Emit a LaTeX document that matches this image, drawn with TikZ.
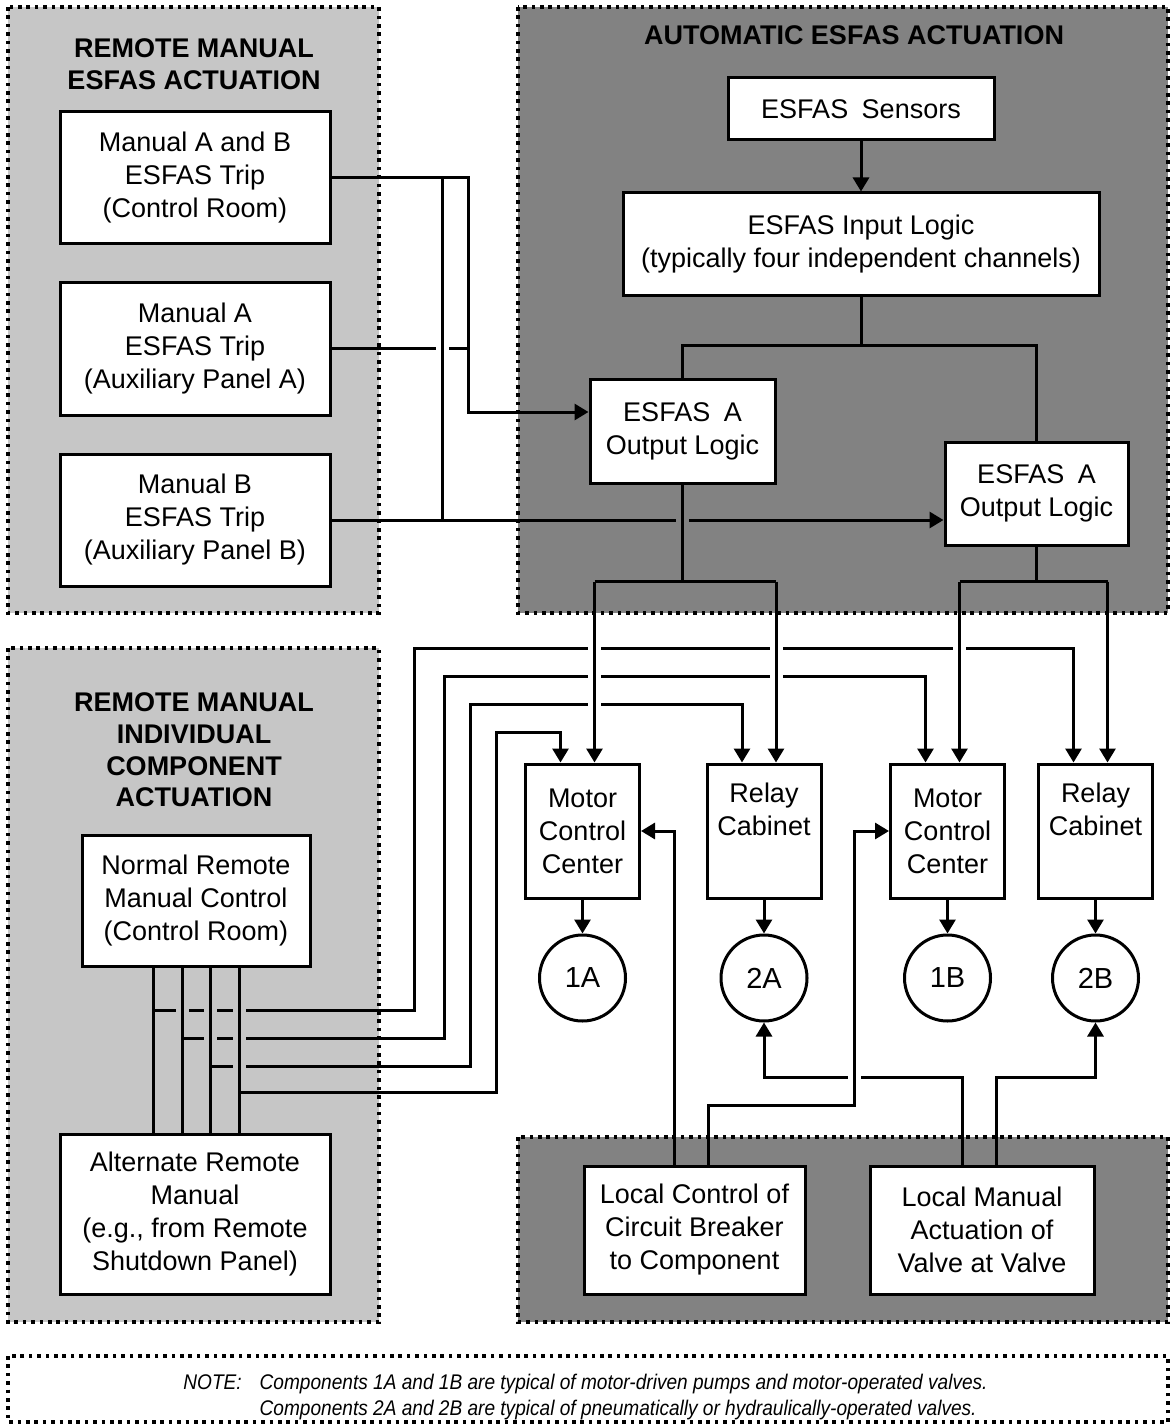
\documentclass[tikz,border=0pt]{standalone}
\usepackage{fontspec}
\setmainfont{Liberation Sans}
\newfontfamily\notefont[FakeStretch=0.9]{Liberation Sans}
\usepackage{tikz}
\usetikzlibrary{arrows.meta,positioning,calc}
\definecolor{panellt}{HTML}{C6C6C6}
\definecolor{paneldk}{HTML}{828282}

\begin{document}
\begin{tikzpicture}[
  x=0.5pt,y=-0.5pt,
  font=\fontsize{13.5}{16.5}\selectfont,
  zone/.style={draw,fill=#1,line width=2pt,dash pattern=on 1.8pt off 2.4pt},
  box/.style={draw,fill=white,line width=1.5pt,align=center,inner sep=0pt},
  esf/.style={box,minimum width=135pt,minimum height=66pt},
  cab/.style={box,minimum width=57pt,minimum height=67pt},
  comp/.style={draw,fill=white,circle,line width=1.5pt,inner sep=0pt,minimum size=43pt,
               font=\fontsize{14.5}{16.5}\selectfont},
  ttl/.style={font=\fontsize{13.5}{15.8}\selectfont\bfseries,align=center},
  wire/.style={line width=1.5pt},
  ar/.style={wire,-{Triangle[length=7pt,width=8pt]}},
  over/.style 2 args={preaction={draw=#1,line width=6.5pt,-,shorten <=#2,shorten >=4pt}}
]
\fill[white] (0,0) rectangle (1170,1428);
\useasboundingbox (0,0) rectangle (1170,1428);

\path[zone=panellt] (8,7) rectangle (379,613);
\path[zone=paneldk] (518,7) rectangle (1168,613);
\path[zone=panellt] (8,648) rectangle (379,1322);
\path[zone=paneldk] (518,1137) rectangle (1168,1322);
\path[zone=white] (8,1356) rectangle (1168,1422);

\node[ttl] (ttlesf) at (194,64) {REMOTE MANUAL\\ESFAS ACTUATION};
\node[esf] (manab) at (195,178) {Manual A and B\\ESFAS Trip\\(Control Room)};
\node[esf,below=18pt of manab] (mana) {Manual A\\ESFAS Trip\\(Auxiliary Panel A)};
\node[esf,below=18pt of mana] (manb) {Manual B\\ESFAS Trip\\(Auxiliary Panel B)};

\node[ttl] (ttlauto) at (854,35) {AUTOMATIC ESFAS ACTUATION};
\node[box,minimum width=133pt,minimum height=31pt] (sens) at (861,109) {ESFAS\enspace Sensors};
\node[box,minimum width=238pt,minimum height=51.5pt,below=25pt of sens] (inlog)
  {ESFAS Input Logic\\(typically four independent channels)};
\node[box,minimum width=92.5pt,minimum height=52pt] (outa) at (682.5,431) {ESFAS\enspace A\\Output Logic};
\node[box,minimum width=91.5pt,minimum height=51.5pt] (outb) at (1036.5,493.5) {ESFAS\enspace A\\Output Logic};

\node[cab] (mcca) at (582.5,831) {Motor\\Control\\Center};
\node[cab] (rela) at (764,831) {Relay\\Cabinet\\\strut};
\node[cab] (mccb) at (947.5,831) {Motor\\Control\\Center};
\node[cab] (relb) at (1095.5,831) {Relay\\Cabinet\\\strut};
\node[comp,below=17pt of mcca] (c1a) {1A};
\node[comp,below=17pt of rela] (c2a) {2A};
\node[comp,below=17pt of mccb] (c1b) {1B};
\node[comp,below=17pt of relb] (c2b) {2B};

\node[ttl] (ttlind) at (194,750) {REMOTE MANUAL\\INDIVIDUAL\\COMPONENT\\ACTUATION};
\node[box,minimum width=114pt,minimum height=65.5pt] (nrm) at (196,900.5)
  {Normal Remote\\Manual Control\\(Control Room)};
\node[box,minimum width=135pt,minimum height=80pt] (alt) at (195,1214)
  {Alternate Remote\\Manual\\(e.g., from Remote\\Shutdown Panel)};

\node[box,minimum width=110.5pt,minimum height=64pt] (lcb) at (694.5,1230)
  {Local Control of\\Circuit Breaker\\to Component};
\node[box,minimum width=112pt,minimum height=64pt] (lmv) at (982,1230)
  {Local Manual\\Actuation of\\Valve at Valve};

\node[anchor=west,inner sep=0pt,font=\notefont\itshape\fontsize{10.6}{13}\selectfont] (note) at (183,1397)
  {\begin{tabular}{@{}l@{\hspace{9pt}}l@{}}
   NOTE: & Components 1A and 1B are typical of motor-driven pumps and motor-operated valves.\\
         & Components 2A and 2B are typical of pneumatically or hydraulically-operated valves.
   \end{tabular}};

\coordinate (trunka) at (468,412);
\coordinate (trunkb) at (442,178);
\coordinate (rise1) at (414,648);
\coordinate (rise2) at (444,676);
\coordinate (rise3) at (470,704);
\coordinate (rise4) at (496,732);
\coordinate (jog) at (854,831);
\path (mcca.north) ++(12,0) coordinate (inmcca) ++(-34,0) coordinate (ctmcca);
\path (rela.north) ++(12,0) coordinate (inrela) ++(-34,0) coordinate (ctrela);
\path (mccb.north) ++(12,0) coordinate (inmccb) ++(-34,0) coordinate (ctmccb);
\path (relb.north) ++(12,0) coordinate (inrelb) ++(-34,0) coordinate (ctrelb);
\path (nrm.south) ++(-43,0) coordinate (bus1) ++(29,0) coordinate (bus2)
  ++(28,0) coordinate (bus3) ++(29,0) coordinate (bus4);
\path (lcb.north) ++(-20,0) coordinate (lcbl) ++(34,0) coordinate (lcbr);
\path (lmv.north) ++(-20,0) coordinate (lmvl) ++(34,0) coordinate (lmvr);

\draw[wire] (mana.east) -- (mana.east -| trunka);
\draw[ar] (manb.east) -- (manb.east -| outb.west);
\draw[wire,over={white}{3pt}] (trunkb) -- (trunkb |- manb.east);
\draw[wire,over={paneldk}{3pt}] (outa.south) -- ++(0,97) coordinate (splita);
\draw[ar] (manab.east) -| (trunka) -- (trunka -| outa.west);

\draw[ar] (sens) -- (inlog);
\draw[wire] (inlog.south) -- ++(0,48) coordinate (splitin) -| (outa.north);
\draw[wire] (splitin) -| (outb.north);
\draw[wire] (outb.south) -- ++(0,35) coordinate (splitb);
\draw[wire] (inmcca |- splita) -- (inrela |- splita);
\draw[wire] (inmccb |- splitb) -- (inrelb |- splitb);

\draw[wire] (bus1) -- (bus1 |- alt.north);
\draw[ar] ([yshift=-21.5pt]bus1) -| (rise1) -| (ctrelb);
\draw[wire,over={panellt}{3pt}] (bus2) -- (bus2 |- alt.north);
\draw[ar] ([yshift=-35.5pt]bus2) -| (rise2) -| (ctmccb);
\draw[wire,over={panellt}{3pt}] (bus3) -- (bus3 |- alt.north);
\draw[ar] ([yshift=-49.5pt]bus3) -| (rise3) -| (ctrela);
\draw[wire,over={panellt}{3pt}] (bus4) -- (bus4 |- alt.north);
\draw[ar] ([yshift=-62.5pt]bus4) -| (rise4) -| (ctmcca);

\draw[ar,over={white}{18pt}] (inmcca |- splita) -- (inmcca);
\draw[ar,over={white}{18pt}] (inrela |- splita) -- (inrela);
\draw[ar,over={white}{18pt}] (inmccb |- splitb) -- (inmccb);
\draw[ar,over={white}{18pt}] (inrelb |- splitb) -- (inrelb);

\draw[ar] (mcca) -- (c1a);
\draw[ar] (rela) -- (c2a);
\draw[ar] (mccb) -- (c1b);
\draw[ar] (relb) -- (c2b);

\draw[ar] (lmvl) -- ++(0,-87) -| (c2a);
\draw[ar] (lmvr) -- ++(0,-87) -| (c2b);
\draw[ar] (lcbl) |- (mcca.east);
\draw[ar,over={white}{17pt}] (lcbr) -- ++(0,-59) -| (jog) -- (jog -| mccb.west);
\end{tikzpicture}
\end{document}
